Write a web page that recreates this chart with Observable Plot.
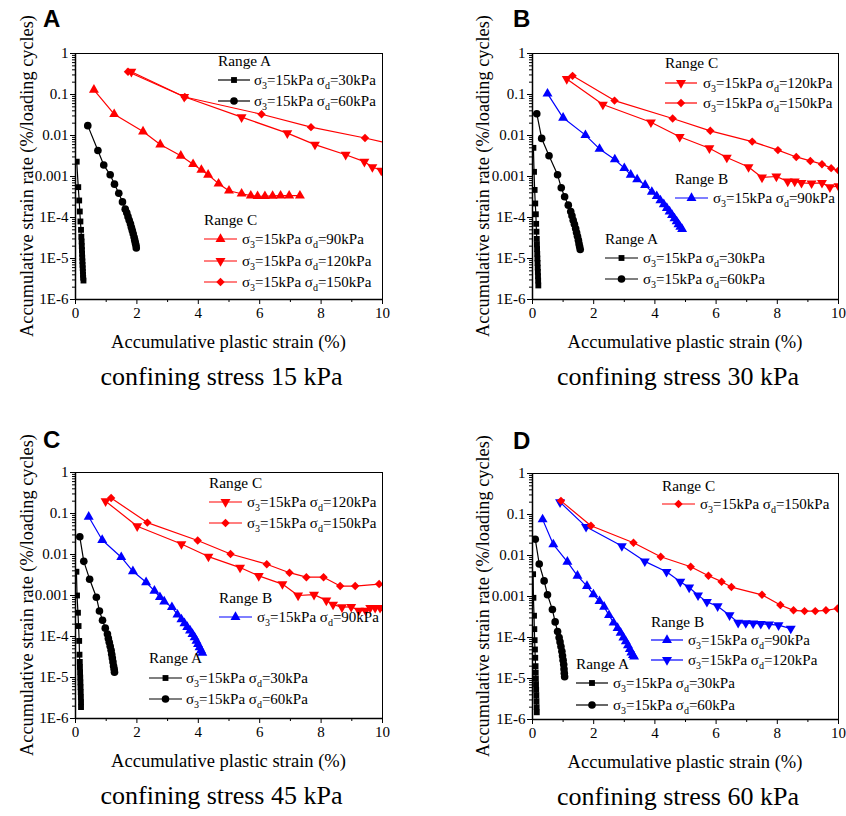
<!DOCTYPE html>
<html><head><meta charset="utf-8">
<script src="https://cdn.jsdelivr.net/npm/d3@7"></script>
<script src="https://cdn.jsdelivr.net/npm/@observablehq/plot@0.6"></script>
<style>
body{margin:0;background:#fff;}
#root{position:relative;width:846px;height:816px;overflow:hidden;font-family:"Liberation Serif","Times New Roman",Times,"DejaVu Serif",serif;}
.panel{position:absolute;}
.panel svg text{font-family:"Liberation Serif","Times New Roman",Times,"DejaVu Serif",serif;}
#overlay{position:absolute;left:0;top:0;pointer-events:none;}
#overlay text{font-family:"Liberation Serif","Times New Roman",Times,"DejaVu Serif",serif;}
#overlay text.letter{font-family:"Liberation Sans",Arial,"DejaVu Sans",sans-serif;font-weight:bold;}
</style></head><body><div id="root"></div>
<script>
// ---------- DATA: [accumulative plastic strain (%), strain rate (%/cycle)] ----------
const A_sd30 = [[0.04,2.3e-3],[0.09,5.5e-4],[0.12,2.6e-4],[0.14,1.4e-4],[0.16,8e-5],[0.18,5e-5],[0.19,3.4e-5],[0.20,2.6e-5],[0.205,2.0e-5],[0.21,1.6e-5],[0.215,1.3e-5],[0.22,1.05e-5],[0.225,8.5e-6],[0.23,7e-6],[0.235,5.8e-6],[0.24,4.8e-6],[0.245,4.0e-6],[0.25,3.4e-6],[0.26,2.9e-6]];
const A_sd60 = [[0.40,0.0174],[0.73,0.0043],[0.92,0.0019],[1.13,0.0011],[1.27,6.5e-4],[1.41,3.9e-4],[1.53,2.4e-4],[1.62,1.6e-4],[1.67,1.3e-4],[1.71,1.05e-4],[1.75,8.6e-5],[1.79,7e-5],[1.82,5.8e-5],[1.85,4.8e-5],[1.88,4e-5],[1.91,3.3e-5],[1.93,2.8e-5],[1.95,2.4e-5],[1.97,2.1e-5],[1.98,1.8e-5]];
const A_sd90 = [[0.60,0.13],[1.26,0.033],[2.2,0.0125],[2.76,0.006],[3.43,0.0032],[3.83,0.002],[4.1,0.00145],[4.32,0.0011],[4.66,6.7e-4],[5.0,4.5e-4],[5.41,3.8e-4],[5.71,3.4e-4],[5.93,3.3e-4],[6.17,3.3e-4],[6.42,3.35e-4],[6.68,3.4e-4],[6.96,3.4e-4],[7.31,3.4e-4]];
const A_sd120 = [[1.82,0.36],[3.54,0.088],[5.41,0.028],[6.9,0.0114],[7.8,0.006],[8.8,0.0034],[9.41,0.0023],[9.67,0.0017],[9.96,0.0014]];
const A_sd150 = [[1.71,0.36],[3.56,0.087],[6.06,0.033],[7.67,0.016],[9.43,0.0087],[10.6,0.0055]];

const B_sd30 = [[0.03,0.005],[0.05,0.0013],[0.07,4.7e-4],[0.09,2.2e-4],[0.11,1.2e-4],[0.12,7e-5],[0.13,4.5e-5],[0.14,3e-5],[0.145,2.2e-5],[0.15,1.7e-5],[0.155,1.3e-5],[0.16,1e-5],[0.165,7.8e-6],[0.17,6e-6],[0.175,4.7e-6],[0.18,3.7e-6],[0.185,2.9e-6],[0.19,2.2e-6]];
const B_sd60 = [[0.14,0.034],[0.30,0.0085],[0.54,0.0032],[0.82,0.0011],[0.94,5.3e-4],[1.05,3.2e-4],[1.17,2e-4],[1.25,1.4e-4],[1.29,1.1e-4],[1.33,8.6e-5],[1.37,6.8e-5],[1.41,5.4e-5],[1.44,4.3e-5],[1.47,3.5e-5],[1.5,2.8e-5],[1.52,2.3e-5],[1.54,1.95e-5],[1.56,1.66e-5]];
const B_sd90 = [[0.49,0.105],[1.0,0.027],[1.73,0.0102],[2.19,0.0047],[2.69,0.0026],[3.0,0.0016],[3.21,0.0011],[3.42,8.5e-4],[3.68,6.2e-4],[3.9,4.2e-4],[4.06,3.3e-4],[4.18,2.6e-4],[4.29,2.1e-4],[4.39,1.7e-4],[4.48,1.4e-4],[4.56,1.15e-4],[4.64,9.5e-5],[4.71,8e-5],[4.77,6.8e-5],[4.83,5.9e-5],[4.89,5.2e-5]];
const B_sd120 = [[1.12,0.24],[2.3,0.057],[3.87,0.021],[4.81,0.0093],[5.78,0.0049],[6.35,0.0029],[7.06,0.0017],[7.5,9.5e-4],[7.97,0.001],[8.34,7.6e-4],[8.57,7.6e-4],[8.79,7e-4],[9.12,6.8e-4],[9.46,7e-4],[9.72,5.5e-4],[10.0,5.8e-4]];
const B_sd150 = [[1.31,0.285],[2.68,0.071],[4.58,0.026],[5.81,0.013],[7.18,0.0071],[8.02,0.0044],[8.62,0.003],[9.08,0.0024],[9.46,0.002],[9.76,0.0016],[10.0,0.0014]];

const C_sd30 = [[0.03,0.0038],[0.05,0.001],[0.08,3.8e-4],[0.10,1.8e-4],[0.12,7.8e-5],[0.13,3.6e-5],[0.14,2.4e-5],[0.145,1.8e-5],[0.15,1.35e-5],[0.155,1.0e-5],[0.16,7.6e-6],[0.165,5.8e-6],[0.17,4.4e-6],[0.175,3.3e-6],[0.18,2.5e-6],[0.18,1.9e-6]];
const C_sd60 = [[0.14,0.027],[0.27,0.0068],[0.46,0.0025],[0.68,9.1e-4],[0.78,4.2e-4],[0.88,2.5e-4],[0.97,1.6e-4],[1.04,1.15e-4],[1.07,9e-5],[1.1,7.2e-5],[1.13,5.8e-5],[1.16,4.6e-5],[1.18,3.7e-5],[1.2,3e-5],[1.22,2.4e-5],[1.24,1.9e-5],[1.26,1.6e-5],[1.27,1.35e-5]];
const C_sd90 = [[0.43,0.083],[0.87,0.0225],[1.49,0.0086],[1.87,0.0039],[2.3,0.0021],[2.57,0.0013],[2.75,9.1e-4],[2.89,7.1e-4],[3.14,5.2e-4],[3.32,3.4e-4],[3.45,2.6e-4],[3.55,2.1e-4],[3.64,1.7e-4],[3.73,1.4e-4],[3.81,1.15e-4],[3.88,9.5e-5],[3.94,7.8e-5],[3.99,6.5e-5],[4.04,5.4e-5],[4.09,4.6e-5],[4.13,4e-5]];
const C_sd120 = [[0.98,0.2],[2.01,0.049],[3.45,0.018],[4.33,0.0089],[5.36,0.0048],[5.97,0.003],[6.74,0.0019],[7.25,0.001],[7.77,0.00105],[8.17,7.6e-4],[8.39,6e-4],[8.68,5.2e-4],[8.98,5.3e-4],[9.23,4.3e-4],[9.45,4.3e-4],[9.6,5e-4],[9.76,5e-4],[9.92,5e-4]];
const C_sd150 = [[1.16,0.24],[2.34,0.06],[3.98,0.022],[5.05,0.0103],[6.23,0.0058],[6.97,0.0036],[7.52,0.0028],[8.08,0.0028],[8.62,0.0017],[9.11,0.0017],[9.89,0.0019]];

const D_sd30 = [[0.02,0.0035],[0.03,9.3e-4],[0.05,3.4e-4],[0.06,1.6e-4],[0.07,8.6e-5],[0.08,5.1e-5],[0.09,3.2e-5],[0.1,2e-5],[0.105,1.4e-5],[0.11,1.0e-5],[0.115,7.3e-6],[0.12,5.3e-6],[0.125,3.9e-6],[0.13,2.8e-6],[0.135,2.0e-6],[0.14,1.5e-6]];
const D_sd60 = [[0.09,0.025],[0.22,0.0062],[0.38,0.0024],[0.49,0.0011],[0.65,4.8e-4],[0.74,2.4e-4],[0.82,1.4e-4],[0.87,1.0e-4],[0.9,7.8e-5],[0.93,6e-5],[0.96,4.6e-5],[0.98,3.6e-5],[1.0,2.8e-5],[1.02,2.2e-5],[1.03,1.7e-5],[1.04,1.35e-5],[1.05,1.1e-5]];
const D_sd90 = [[0.33,0.076],[0.68,0.0186],[1.14,0.007],[1.47,0.0032],[1.78,0.0018],[1.99,0.00112],[2.19,7.7e-4],[2.34,5.6e-4],[2.5,3.5e-4],[2.65,2.3e-4],[2.78,1.7e-4],[2.88,1.3e-4],[2.97,1.0e-4],[3.05,8e-5],[3.12,6.4e-5],[3.18,5.2e-5],[3.23,4.3e-5],[3.28,3.7e-5],[3.32,3.4e-5]];
const D_sd120 = [[0.9,0.2],[1.75,0.05],[2.92,0.017],[3.67,0.0072],[4.38,0.004],[4.83,0.0023],[5.12,0.00166],[5.41,0.00107],[5.7,7.4e-4],[6.05,5.8e-4],[6.44,3.5e-4],[6.72,2.3e-4],[6.97,2.25e-4],[7.21,2.2e-4],[7.46,2.15e-4],[7.73,2.1e-4],[8.04,2e-4],[8.44,1.65e-4]];
const D_sd150 = [[0.93,0.215],[1.91,0.053],[3.3,0.0204],[4.19,0.0093],[5.17,0.0053],[5.75,0.0032],[6.18,0.0023],[6.5,0.0017],[7.5,0.0011],[8.1,6.2e-4],[8.53,4.6e-4],[8.89,4.4e-4],[9.24,4.4e-4],[9.59,4.6e-4],[9.97,5.1e-4]];

// ---------- TICKS / TEXT ----------
const xMajorTicks = [0,2,4,6,8,10];
const xMinorTicks = [1,3,5,7,9];
const yMajorTicks = [1e-6,1e-5,1e-4,1e-3,1e-2,1e-1,1];
const yTickLabels = ["1E-6","1E-5","1E-4","0.001","0.01","0.1","1"];
const panelLetters = ["A","B","C","D"];
const captions = ["confining stress 15 kPa","confining stress 30 kPa","confining stress 45 kPa","confining stress 60 kPa"];
const xTitle = "Accumulative plastic strain (%)";
const yTitle = "Accumulative strain rate (%/loading cycles)";
const sigma3 = "15";
const deviatoric = {sd30:"30", sd60:"60", sd90:"90", sd120:"120", sd150:"150"};

// ---------- STYLES ----------
const SERIF = "'Liberation Serif','Times New Roman',Times,'DejaVu Serif',serif";
const RED = "#ff0000", BLUE = "#0000ff", BLACK = "#000000";
const sym = {
  sd30:{symbol:"square", r:3.3, rot:0},
  sd60:{symbol:"circle", r:3.8, rot:0},
  sd90:{symbol:"triangle", r:3.7, rot:0},
  sd120:{symbol:"triangle", r:3.7, rot:180},
  sd150:{symbol:"diamond2", r:3.8, rot:0}
};
const d3sym = {square:d3.symbolSquare, circle:d3.symbolCircle, triangle:d3.symbolTriangle, diamond2:d3.symbolDiamond2};

const panels = [
  {left:0, top:0, width:420, ml:75, mr:38,
   series:[["sd90",A_sd90,RED],["sd120",A_sd120,RED],["sd150",A_sd150,RED],["sd30",A_sd30,BLACK],["sd60",A_sd60,BLACK]],
   legends:[
     {title:"Range A", tx:218, ty:66, x0:218, x1:250, tx2:254, entries:[["sd30",BLACK,80],["sd60",BLACK,101]]},
     {title:"Range C", tx:204, ty:225, x0:204, x1:237, tx2:242, entries:[["sd90",RED,239],["sd120",RED,261],["sd150",RED,282]]}
   ]},
  {left:456, top:0, width:390, ml:76, mr:8,
   series:[["sd90",B_sd90,BLUE],["sd120",B_sd120,RED],["sd150",B_sd150,RED],["sd30",B_sd30,BLACK],["sd60",B_sd60,BLACK]],
   legends:[
     {title:"Range C", tx:665, ty:68, x0:665, x1:697, tx2:703, entries:[["sd120",RED,83],["sd150",RED,103]]},
     {title:"Range B", tx:675, ty:184, x0:675, x1:708, tx2:713, entries:[["sd90",BLUE,198]]},
     {title:"Range A", tx:605, ty:244, x0:605, x1:638, tx2:643, entries:[["sd30",BLACK,258],["sd60",BLACK,279]]}
   ]},
  {left:0, top:419, width:420, ml:75, mr:38,
   series:[["sd90",C_sd90,BLUE],["sd120",C_sd120,RED],["sd150",C_sd150,RED],["sd30",C_sd30,BLACK],["sd60",C_sd60,BLACK]],
   legends:[
     {title:"Range C", tx:209, ty:488, x0:209, x1:242, tx2:247, entries:[["sd120",RED,502],["sd150",RED,523]]},
     {title:"Range B", tx:219, ty:603, x0:219, x1:252, tx2:257, entries:[["sd90",BLUE,617]]},
     {title:"Range A", tx:149, ty:663, x0:149, x1:182, tx2:186, entries:[["sd30",BLACK,678],["sd60",BLACK,699]]}
   ]},
  {left:456, top:420, width:390, ml:76, mr:8,
   series:[["sd90",D_sd90,BLUE],["sd120",D_sd120,BLUE],["sd150",D_sd150,RED],["sd30",D_sd30,BLACK],["sd60",D_sd60,BLACK]],
   legends:[
     {title:"Range C", tx:662, ty:491, x0:662, x1:695, tx2:700, entries:[["sd150",RED,504]]},
     {title:"Range B", tx:651, ty:627, x0:651, x1:683, tx2:688, entries:[["sd90",BLUE,640],["sd120",BLUE,660]]},
     {title:"Range A", tx:576, ty:669, x0:576, x1:608, tx2:613, entries:[["sd30",BLACK,683],["sd60",BLACK,705]]}
   ]}
];

const H = 330, MT = 53, MB = 31;
const root = document.getElementById("root");
const yLabelMap = new Map(yMajorTicks.map((t,i)=>[t, yTickLabels[i]]));
const yMinorTicks = [];
for (const t of yMajorTicks.slice(0,-1)) for (let k=2;k<=9;k++) yMinorTicks.push(t*k);

panels.forEach((p) => {
  const marks = [
    Plot.frame({stroke:BLACK, strokeWidth:1}),
    Plot.axisX({ticks:xMajorTicks, tickSize:5, tickPadding:3, label:null, tickFormat:d=>String(d), fontSize:15}),
    Plot.axisX({ticks:xMinorTicks, tickSize:3, label:null, tickFormat:()=>""}),
    Plot.axisY({ticks:yMajorTicks, tickSize:5, tickPadding:2, label:null, tickFormat:d=>yLabelMap.get(d), fontSize:15}),
    Plot.axisY({ticks:yMinorTicks, tickSize:3, label:null, tickFormat:()=>""}),
    Plot.ruleX([0], {stroke:BLACK, strokeWidth:1.5}),
    Plot.ruleY([1e-6], {stroke:BLACK, strokeWidth:1.5})
  ];
  for (const [key, data, color] of p.series) {
    const s = sym[key];
    marks.push(Plot.line(data, {x:d=>d[0], y:d=>d[1], stroke:color, strokeWidth:1.2, clip:true}));
    marks.push(Plot.dot(data, {x:d=>d[0], y:d=>d[1], fill:color, stroke:"none", symbol:s.symbol, r:s.r, rotate:s.rot, clip:true}));
  }
  const chart = Plot.plot({
    width:p.width, height:H, marginLeft:p.ml, marginRight:p.mr, marginTop:MT, marginBottom:MB,
    x:{domain:[0,10]}, y:{type:"log", domain:[1e-6,1]},
    style:{fontFamily:SERIF, fontSize:"15px", color:"black", background:"transparent", overflow:"visible"},
    marks
  });
  const div = document.createElement("div");
  div.className = "panel";
  div.style.left = p.left+"px"; div.style.top = p.top+"px";
  div.appendChild(chart);
  root.appendChild(div);
});

// ---------- overlay text & legends ----------
const svg = d3.select(root).append("svg").attr("id","overlay").attr("width",846).attr("height",816);

function legendLabel(g, x, y, key) {
  const t = g.append("text").attr("x",x).attr("y",y).attr("font-size",15).attr("fill","black");
  t.append("tspan").text("σ");
  t.append("tspan").attr("font-size",10).attr("dy",4).text("3");
  t.append("tspan").attr("dy",-4).text("="+sigma3+"kPa σ");
  t.append("tspan").attr("font-size",10).attr("dy",4).text("d");
  t.append("tspan").attr("dy",-4).text("="+deviatoric[key]+"kPa");
}

panels.forEach((p, i) => {
  const cx = p.left + p.ml + (p.width - p.ml - p.mr)/2;
  const plotTop = p.top + MT, plotBot = p.top + H - MB;
  // panel letter
  svg.append("text").attr("class","letter").attr("x", i%2 ? p.left+57 : p.left+43).attr("y", p.top + 27 + (i>1?2:0))
    .attr("font-size",24).text(panelLetters[i]);
  // y title
  svg.append("text").attr("transform",`translate(${p.left+27},${(plotTop+plotBot)/2}) rotate(-90)`)
    .attr("text-anchor","middle").attr("dominant-baseline","central").attr("font-size",18.3).text(yTitle);
  // x title
  svg.append("text").attr("x",cx).attr("y",p.top+348).attr("text-anchor","middle").attr("font-size",18.5).text(xTitle);
  // caption
  svg.append("text").attr("x",cx-7).attr("y",p.top+385).attr("text-anchor","middle").attr("font-size",26).text(captions[i]);
  // legends
  for (const lg of p.legends) {
    svg.append("text").attr("x",lg.tx).attr("y",lg.ty).attr("font-size",15.3).text(lg.title);
    for (const [key, color, y] of lg.entries) {
      const s = sym[key];
      svg.append("line").attr("x1",lg.x0).attr("x2",lg.x1).attr("y1",y).attr("y2",y).attr("stroke",color).attr("stroke-width",1.2);
      svg.append("path").attr("d", d3.symbol(d3sym[s.symbol], Math.PI*s.r*s.r)())
        .attr("transform",`translate(${(lg.x0+lg.x1)/2},${y}) rotate(${s.rot})`).attr("fill",color);
      legendLabel(svg, lg.tx2, y+5, key);
    }
  }
});
</script>
</body></html>
